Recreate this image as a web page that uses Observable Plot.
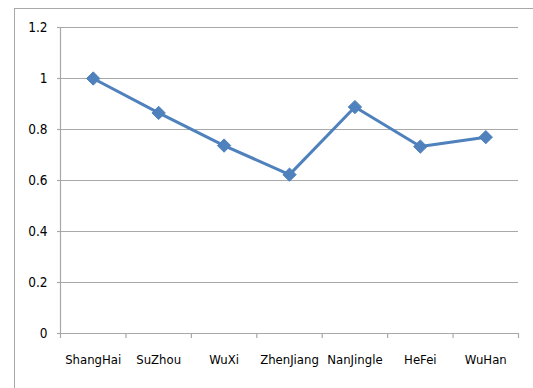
<!DOCTYPE html>
<html><head>
<meta charset="utf-8">
<script src="https://cdn.jsdelivr.net/npm/d3@7"></script>
<script src="https://cdn.jsdelivr.net/npm/@observablehq/plot@0.6"></script>
<style>
body{margin:0;background:#fff;}
#wrap{position:relative;width:533px;height:388px;overflow:hidden;background:#fff;}
#border{position:absolute;left:14px;top:8px;width:600px;height:500px;border-left:1px solid #a8a8a8;border-top:1px solid #a8a8a8;}
#chart{position:absolute;left:0;top:0;}
</style></head><body>
<div id="wrap"><div id="border"></div><div id="chart"></div></div>
<script>
const cities = ["ShangHai", "SuZhou", "WuXi", "ZhenJiang", "NanJingle", "HeFei", "WuHan"];
const values = [1.0, 0.865, 0.737, 0.623, 0.888, 0.733, 0.77];
const yTicks = [0, 0.2, 0.4, 0.6, 0.8, 1, 1.2];
const yTickLabels = ["0", "0.2", "0.4", "0.6", "0.8", "1", "1.2"];

const data = cities.map((c, i) => ({i, city: c, value: values[i]}));
const boundaries = d3.range(cities.length + 1).map(i => i - 0.5);
const fontFam = "'Liberation Sans Narrow', 'DejaVu Sans Condensed', 'Liberation Sans', sans-serif";
const lineColor = "#4f81bd";
const gridColor = "#a8a8a8";

const chart = Plot.plot({
  width: 533, height: 388,
  marginLeft: 60, marginRight: 15, marginTop: 27, marginBottom: 55,
  style: {fontFamily: fontFam, fontSize: "13.5px", color: "#000", background: "transparent"},
  x: {domain: [-0.5, cities.length - 0.5], ticks: boundaries, tickFormat: () => "", tickSize: 5, label: null},
  y: {domain: [0, 1.2], ticks: yTicks, tickFormat: (d) => yTickLabels[yTicks.indexOf(d)], tickSize: 3, tickPadding: 10, label: null},
  marks: [
    Plot.ruleY(yTicks.filter(d => d > 0), {stroke: gridColor, strokeWidth: 1.2}),
    Plot.ruleY([0], {stroke: gridColor, strokeWidth: 1.2}),
    Plot.ruleX([-0.5], {stroke: gridColor, strokeWidth: 1.2}),
    Plot.line(data, {x: "i", y: "value", stroke: lineColor, strokeWidth: 3}),
    Plot.dot(data, {x: "i", y: "value", symbol: "diamond2", r: 6, fill: lineColor, stroke: lineColor, strokeWidth: 1}),
    Plot.text(data, {x: "i", frameAnchor: "bottom", text: "city", lineAnchor: "top", dy: 21, fontSize: 13, fill: "#000"})
  ]
});
chart.querySelectorAll('[aria-label^="x-axis"] line, [aria-label^="x-axis"] path, [aria-label^="y-axis"] line, [aria-label^="y-axis"] path').forEach(e => {
  e.setAttribute("stroke", gridColor);
  e.setAttribute("stroke-width", "1.2");
});
document.getElementById("chart").appendChild(chart);
</script>
</body></html>
